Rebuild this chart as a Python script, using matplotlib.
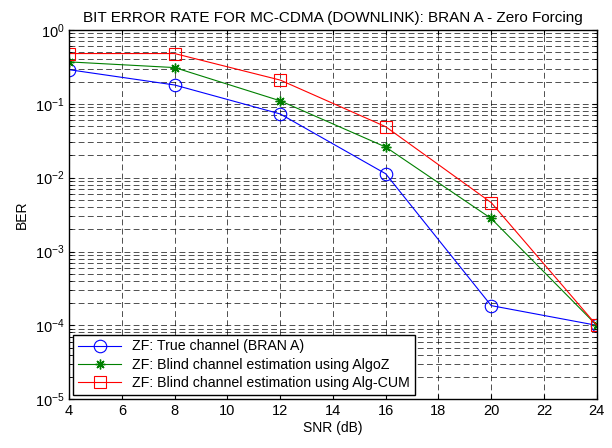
import matplotlib
matplotlib.use("Agg")
import matplotlib.pyplot as plt
from matplotlib.ticker import LogLocator, NullFormatter

plt.rcParams['font.family'] = ['Liberation Sans', 'DejaVu Sans']

snr = [4, 8, 12, 16, 20, 24]
ber_true = [0.29, 0.18, 0.073, 0.0113, 1.85e-4, 1e-4]
ber_algoz = [0.37, 0.31, 0.11, 0.026, 2.8e-3, 1e-4]
ber_cum = [0.48, 0.48, 0.21, 0.049, 4.6e-3, 1e-4]

labels = ['ZF: True channel (BRAN A)',
          'ZF: Blind channel estimation using AlgoZ',
          'ZF: Blind channel estimation using Alg-CUM']

fig = plt.figure(figsize=(6.12, 4.48), dpi=100)
ax = fig.add_axes([0.113, 0.109, 0.862, 0.824])

ax.semilogy(snr, ber_true, '-o', color='blue', mfc='none', ms=9, lw=0.8, mew=0.8, label=labels[0])
ax.semilogy(snr, ber_algoz, '-', marker=(8, 2, 0), color='green', ms=7, lw=0.8, mew=1.0, label=labels[1])
ax.semilogy(snr, ber_cum, '-s', color='red', mfc='none', ms=9, lw=0.8, mew=0.8, label=labels[2])

ax.set_xlim(4, 24)
ax.set_ylim(1e-5, 1)
ax.set_xticks(range(4, 25, 2))
ax.yaxis.set_major_locator(LogLocator(base=10, numticks=10))
ax.yaxis.set_minor_locator(LogLocator(base=10, subs=range(2, 10), numticks=10))
ax.yaxis.set_minor_formatter(NullFormatter())

ax.grid(True, which='major', color='black', linestyle=(0, (7, 4)), lw=0.6, alpha=0.8)
ax.grid(True, which='minor', axis='y', color='black', linestyle=(0, (7, 4)), lw=0.6, alpha=0.8)
ax.tick_params(which='both', direction='in', top=True, right=True, labelsize=10.5)
ax.tick_params(which='minor', length=2)
for s in ax.spines.values():
    s.set_linewidth(1.0)

ax.set_xlabel('SNR (dB)', fontsize=10, labelpad=2)
ax.set_ylabel('BER', fontsize=10)
ax.set_title('BIT ERROR RATE FOR MC-CDMA (DOWNLINK): BRAN A - Zero Forcing', fontsize=11, pad=6)

leg = ax.legend(loc='lower left', fontsize=10.2, fancybox=False, framealpha=1,
                edgecolor='black', borderaxespad=0.3, handlelength=3, labelspacing=0.3,
                borderpad=0.35)
leg.get_frame().set_linewidth(1.0)

fig.savefig('out.png', dpi=100)
